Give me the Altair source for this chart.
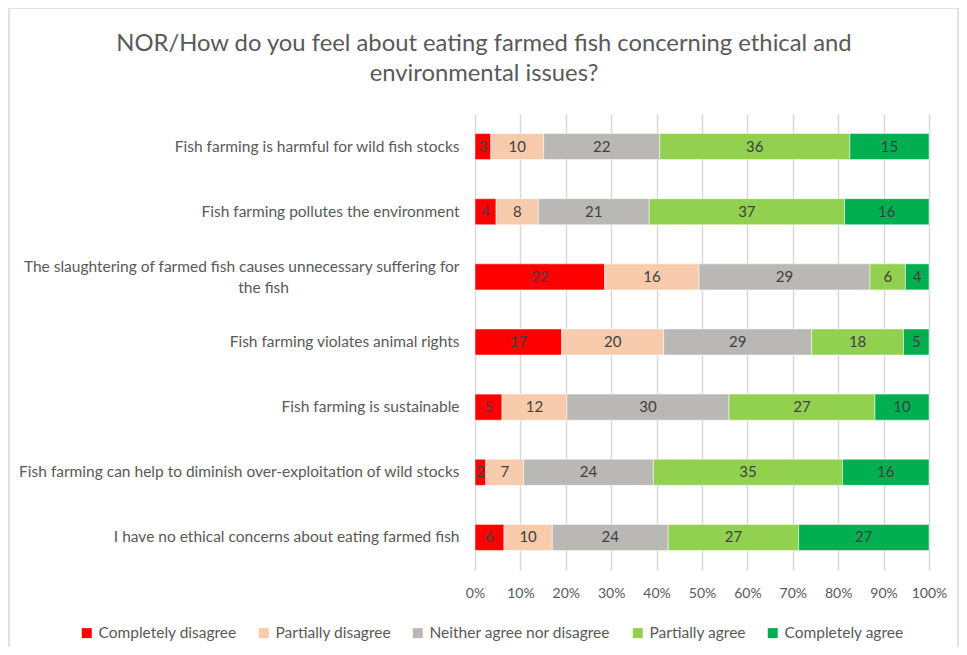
import altair as alt
import pandas as pd

items = [
    "Fish farming is harmful for wild fish stocks",
    "Fish farming pollutes the environment",
    "The slaughtering of farmed fish causes unnecessary suffering for the fish",
    "Fish farming violates animal rights",
    "Fish farming is sustainable",
    "Fish farming can help to diminish over-exploitation of wild stocks",
    "I have no ethical concerns about eating farmed fish",
]
categories = ["Completely disagree", "Partially disagree", "Neither agree nor disagree",
              "Partially agree", "Completely agree"]
completely_disagree = [3, 4, 22, 17, 5, 2, 6]
partially_disagree = [10, 8, 16, 20, 12, 7, 10]
neither = [22, 21, 29, 29, 30, 24, 24]
partially_agree = [36, 37, 6, 18, 27, 35, 27]
completely_agree = [15, 16, 4, 5, 10, 16, 27]
colors = ["#FF0000", "#F8CBAD", "#BAB8B5", "#92D050", "#00B050"]

series = [completely_disagree, partially_disagree, neither, partially_agree, completely_agree]
rows = []
for ci, (cat, vals) in enumerate(zip(categories, series)):
    for item, v in zip(items, vals):
        rows.append({"item": item, "cat": cat, "order": ci, "v": v})
df = pd.DataFrame(rows)

FONT = "Lato"
TXT = "#595959"

long_label = items[2]
pad = "\u00a0" * 43 + "\u200b"
label_expr = (
    f"datum.value == '{long_label}' ? "
    f"['The slaughtering of farmed fish causes unnecessary suffering for', 'the fish{pad}'] : datum.value"
)

base = alt.Chart(df).transform_stack(
    stack="v", groupby=["item"], as_=["x0", "x1"],
    sort=[alt.SortField("order", order="ascending")], offset="normalize"
).transform_calculate(mid="(datum.x0 + datum.x1) / 2")

y_enc = alt.Y("item:N", sort=items, title=None,
              scale=alt.Scale(paddingInner=0.6, paddingOuter=0.3),
              axis=alt.Axis(labelExpr=label_expr, labelFont=FONT, labelFontSize=15.5,
                            labelColor=TXT, labelPadding=16, ticks=False, domain=False,
                            labelLimit=500, labelLineHeight=21,
                            labelOffset={"condition": {"test": f"datum.value == '{long_label}'",
                                                       "value": -10}, "value": 0})
              )

bars = base.mark_bar(stroke="white", strokeWidth=0.5).encode(
    x=alt.X("x0:Q", title=None,
            scale=alt.Scale(domain=[0, 1], nice=False),
            axis=alt.Axis(format=".0%", values=[i / 10 for i in range(11)],
                          labelFont=FONT, labelFontSize=14, labelColor=TXT,
                          labelPadding=16, ticks=False, domain=False,
                          labelOverlap=False, labelBound=False, labelFlush=False,
                          grid=True, gridColor="#D9D9D9", gridWidth=1.5)),
    x2="x1:Q",
    y=y_enc,
    color=alt.Color("cat:N", sort=categories,
                    scale=alt.Scale(domain=categories, range=colors),
                    legend=alt.Legend(title=None, orient="none", direction="horizontal",
                                      legendX=-396, legendY=511,
                                      labelFont=FONT, labelFontSize=15.5, labelColor=TXT,
                                      labelLimit=400,
                                      symbolType="square", symbolSize=100,
                                      symbolStrokeWidth=0, columnPadding=19,
                                      labelOffset=4)),
)

labels = base.mark_text(font=FONT, fontSize=15, color="#404040").encode(
    x="mid:Q",
    y=alt.Y("item:N", sort=items),
    text="v:Q",
)

border = alt.Chart(pd.DataFrame({"k": [0]})).mark_rect(
    fill=None, stroke="#D9D9D9", strokeWidth=1.5
).encode(
    x=alt.value(-466), x2=alt.value(483), y=alt.value(-106), y2=alt.value(600)
)

chart = alt.layer(border, bars, labels).properties(
    width=454, height=456,
    autosize=alt.AutoSizeParams(type="none"),
    padding={"left": 467, "top": 106, "right": 30, "bottom": 77},
    title=alt.TitleParams(
        text=["NOR/How do you feel about eating farmed fish concerning ethical and",
              "environmental issues?"],
        font=FONT, fontSize=23.8, fontWeight="normal", color=TXT,
        anchor="middle", dx=-218, offset=-79, lineHeight=30,
    ),
).configure_view(stroke=None)

chart.save("out.html", embed_options={"renderer": "svg", "actions": False})
